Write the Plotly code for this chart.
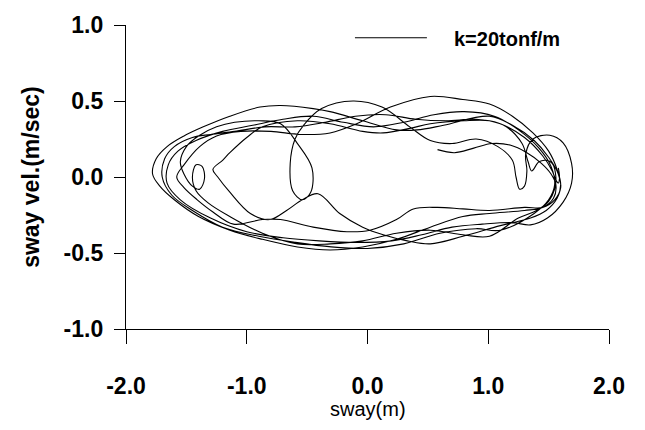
import plotly.graph_objects as go

# ---- data (sway [m], sway velocity [m/s]) ----
orbit1_x = [0.58, 0.72, 0.88, 1.03, 1.18, 1.32, 1.44, 1.52, 1.56, 1.54, 1.45, 1.30, 1.01, 0.79, 0.52, 0.24, -0.04, -0.31, -0.58, -0.87, -1.14, -1.40, -1.60, -1.72, -1.78, -1.75, -1.66, -1.52, -1.36, -1.14, -0.89, -0.72, -0.45, -0.31, -0.04, 0.24, 0.41, 0.63, 1.01, 1.20, 1.38, 1.50, 1.58, 1.60, 1.55, 1.45]
orbit1_y = [0.18, 0.16, 0.19, 0.22, 0.21, 0.16, 0.09, 0.02, -0.05, -0.14, -0.20, -0.22, -0.24, -0.26, -0.33, -0.41, -0.46, -0.48, -0.46, -0.41, -0.35, -0.26, -0.15, -0.06, 0.02, 0.12, 0.20, 0.27, 0.33, 0.40, 0.46, 0.47, 0.45, 0.43, 0.37, 0.31, 0.31, 0.34, 0.40, 0.34, 0.24, 0.13, 0.02, -0.07, -0.15, -0.20]

orbit2_x = [1.30, 1.01, 0.79, 0.58, 0.38, 0.24, 0.02, -0.17, -0.45, -0.72, -0.87, -1.11, -1.28, -1.41, -1.52, -1.58, -1.52, -1.39, -1.25, -1.05, -0.80, -0.55, -0.31, -0.09, 0.19, 0.52, 0.79, 1.01, 1.20, 1.37, 1.50, 1.57, 1.60, 1.57, 1.48, 1.35]
orbit2_y = [-0.20, -0.22, -0.21, -0.20, -0.21, -0.28, -0.35, -0.36, -0.33, -0.28, -0.28, -0.31, -0.23, -0.15, -0.07, 0.00, 0.08, 0.20, 0.27, 0.30, 0.30, 0.28, 0.29, 0.35, 0.46, 0.53, 0.51, 0.48, 0.40, 0.29, 0.17, 0.05, -0.05, -0.14, -0.22, -0.27]

orbit3_x = [1.10, 0.79, 0.52, 0.33, 0.13, -0.04, -0.23, -0.41, -0.54, -0.67, -0.81, -0.97, -1.14, -1.24, -1.28, -1.20, -1.14, -1.00, -0.87, -0.58, -0.31, -0.04, 0.13, 0.35, 0.52, 0.80, 1.01, 1.15, 1.28, 1.33, 1.36, 1.42, 1.48, 1.53, 1.56, 1.55, 1.50, 1.40, 1.25]
orbit3_y = [-0.32, -0.39, -0.44, -0.42, -0.38, -0.33, -0.24, -0.11, -0.15, -0.22, -0.28, -0.24, -0.10, 0.00, 0.05, 0.11, 0.16, 0.26, 0.33, 0.37, 0.35, 0.30, 0.29, 0.32, 0.35, 0.37, 0.37, 0.33, 0.22, 0.10, 0.04, 0.10, 0.11, 0.09, 0.00, -0.08, -0.16, -0.22, -0.27]

orbit4_x = [1.01, 0.79, 0.52, 0.24, -0.04, -0.31, -0.58, -0.87, -1.14, -1.32, -1.42, -1.45, -1.42, -1.37, -1.35, -1.39, -1.45, -1.52, -1.55, -1.50, -1.40, -1.25, -1.10, -0.90, -0.72, -0.58, -0.46, -0.47, -0.54, -0.62, -0.64, -0.60, -0.53, -0.38, -0.12, 0.12, 0.35, 0.52, 0.70, 0.90, 1.08, 1.20, 1.23, 1.26, 1.30, 1.32, 1.31, 1.37, 1.51, 1.62, 1.69, 1.69, 1.62, 1.49, 1.35]
orbit4_y = [-0.39, -0.38, -0.35, -0.37, -0.42, -0.44, -0.44, -0.37, -0.26, -0.17, -0.09, 0.00, 0.08, 0.07, -0.01, -0.08, -0.06, 0.02, 0.10, 0.20, 0.27, 0.33, 0.36, 0.37, 0.35, 0.22, 0.06, -0.10, -0.15, -0.09, 0.09, 0.25, 0.34, 0.45, 0.50, 0.46, 0.33, 0.24, 0.22, 0.25, 0.20, 0.11, 0.00, -0.08, -0.06, 0.04, 0.15, 0.25, 0.275, 0.225, 0.09, -0.04, -0.165, -0.27, -0.315]

orbit6_x = [1.20, 0.95, 0.70, 0.45, 0.20, -0.10, -0.40, -0.70, -1.00, -1.30, -1.55, -1.66, -1.65, -1.57, -1.42, -1.20, -0.95, -0.70, -0.45, -0.20, 0.05, 0.30, 0.55, 0.80, 1.05, 1.25, 1.42, 1.52, 1.55, 1.50, 1.38]
orbit6_y = [-0.30, -0.31, -0.33, -0.38, -0.42, -0.43, -0.42, -0.40, -0.36, -0.27, -0.15, -0.04, 0.08, 0.17, 0.24, 0.30, 0.34, 0.38, 0.40, 0.36, 0.33, 0.36, 0.41, 0.43, 0.40, 0.31, 0.19, 0.07, -0.05, -0.15, -0.24]

orbit5_x = [1.10, 0.90, 0.60, 0.30, 0.00, -0.30, -0.60, -0.90, -1.20, -1.45, -1.62, -1.70, -1.68, -1.60, -1.45, -1.30, -1.10, -0.85, -0.60, -0.35, -0.10, 0.15, 0.40, 0.65, 0.90, 1.10, 1.30, 1.45, 1.53, 1.56, 1.58, 1.59, 1.58]
orbit5_y = [-0.35, -0.34, -0.37, -0.44, -0.47, -0.46, -0.43, -0.39, -0.33, -0.22, -0.12, 0.00, 0.12, 0.20, 0.26, 0.28, 0.30, 0.33, 0.33, 0.36, 0.40, 0.41, 0.38, 0.37, 0.38, 0.35, 0.26, 0.14, 0.04, -0.02, -0.04, 0.00, 0.06]

x_ticks = [-2.0, -1.0, 0.0, 1.0, 2.0]
x_tick_text = ["-2.0", "-1.0", "0.0", "1.0", "2.0"]
y_ticks = [-1.0, -0.5, 0.0, 0.5, 1.0]
y_tick_text = ["-1.0", "-0.5", "0.0", "0.5", "1.0"]
legend_label = "k=20tonf/m"

sway = orbit1_x + orbit2_x + orbit3_x + orbit4_x + orbit6_x + orbit5_x
vel = orbit1_y + orbit2_y + orbit3_y + orbit4_y + orbit6_y + orbit5_y

fig = go.Figure()
fig.add_trace(go.Scatter(
    x=sway, y=vel, mode="lines",
    line=dict(color="black", width=1.1, shape="spline", smoothing=1.0),
    showlegend=False, hoverinfo="skip"))

FONT = "Liberation Sans, Arial, sans-serif"
tick_font = dict(family=FONT, size=23, color="black")

fig.update_layout(
    width=645, height=430,
    margin=dict(l=126, r=36, t=20, b=101),
    paper_bgcolor="white", plot_bgcolor="white",
    showlegend=False,
    xaxis=dict(range=[-2, 2], tickvals=x_ticks, ticktext=["<b>%s</b>" % t for t in x_tick_text],
               showgrid=False, zeroline=False, showline=True, linecolor="black", linewidth=1.3,
               ticks="outside", ticklen=14, tickwidth=1.3, tickcolor="black",
               tickfont=tick_font, ticklabelstandoff=22),
    yaxis=dict(range=[-1, 1], tickvals=y_ticks, ticktext=["<b>%s</b>" % t for t in y_tick_text],
               showgrid=False, zeroline=False, showline=True, linecolor="black", linewidth=1.3,
               ticks="outside", ticklen=11, tickwidth=1.3, tickcolor="black",
               tickfont=tick_font, ticklabelstandoff=6),
)

fig.add_annotation(text="sway(m)", xref="paper", yref="paper", x=0.5, y=-0.262,
                   showarrow=False, xanchor="center", yanchor="middle",
                   font=dict(family=FONT, size=20, color="black"))
fig.add_annotation(text="<b>sway vel.(m/sec)</b>", xref="paper", yref="paper", x=-0.197, y=0.5,
                   showarrow=False, textangle=-90, xanchor="center", yanchor="middle",
                   font=dict(family=FONT, size=23, color="black"))

# legend sample line and label
fig.add_shape(type="line", xref="paper", yref="paper", x0=0.474, x1=0.623, y0=0.958, y1=0.958,
              line=dict(color="black", width=1.1))
fig.add_annotation(text="<b>" + legend_label + "</b>", xref="paper", yref="paper", x=0.675, y=0.954,
                   showarrow=False, xanchor="left", yanchor="middle",
                   font=dict(family=FONT, size=20, color="black"))

fig.write_html("out.html")
